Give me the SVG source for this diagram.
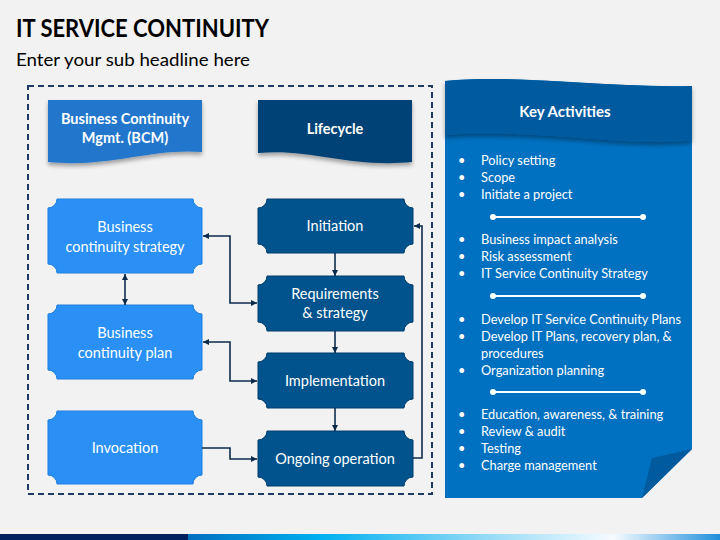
<svg xmlns="http://www.w3.org/2000/svg" width="720" height="540" viewBox="0 0 720 540">
<defs>
<style>
.t{font-family:Lato,"Liberation Sans",sans-serif;fill:#fff}
.b{font-weight:bold}
.c{text-anchor:middle}
.box{font-size:14.5px}
.li{font-size:12.8px}
.con{fill:none;stroke:#0d2b4c;stroke-width:1.6}
.lb{fill:#2a90f5;stroke:#1f7fde;stroke-width:1}
.db{fill:#00538d;stroke:#003e6c;stroke-width:1}
</style>
<marker id="ah" viewBox="0 0 10 10" refX="10" refY="5" markerWidth="6" markerHeight="6" markerUnits="userSpaceOnUse" orient="auto-start-reverse">
<path d="M0,0 L10,5 L0,10 Z" fill="#0d2b4c"/>
</marker>
<marker id="dot" viewBox="0 0 10 10" refX="5" refY="5" markerWidth="6" markerHeight="6" markerUnits="userSpaceOnUse">
<circle cx="5" cy="5" r="5" fill="#fff"/>
</marker>
<filter id="sh" x="-10%" y="-10%" width="120%" height="140%">
<feDropShadow dx="0" dy="3" stdDeviation="2" flood-color="#000" flood-opacity="0.35"/>
</filter>
<linearGradient id="bar" x1="0" x2="1" y1="0" y2="0">
<stop offset="0" stop-color="#0070c0"/>
<stop offset="0.25" stop-color="#00b0f0"/>
<stop offset="0.55" stop-color="#8fd9f6"/>
<stop offset="0.8" stop-color="#f6fbff"/>
<stop offset="1" stop-color="#1f8fdc"/>
</linearGradient>
</defs>
<rect width="720" height="540" fill="#f2f2f2"/>
<text x="16" y="37" font-family="Lato,'Liberation Sans',sans-serif" font-weight="bold" font-size="24" fill="#000" textLength="253" lengthAdjust="spacingAndGlyphs">IT SERVICE CONTINUITY</text>
<text x="16" y="66" font-family="Lato,'Liberation Sans',sans-serif" font-size="18" fill="#000" textLength="234" lengthAdjust="spacingAndGlyphs">Enter your sub headline here</text>

<rect x="28" y="86" width="404" height="408" fill="none" stroke="#1f3864" stroke-width="2" stroke-dasharray="6 4"/>

<g id="bcm-header">
<path d="M48,100 H202 V152 C150,148 110,168 48,162 Z" fill="#2277cc" filter="url(#sh)"/>
<text class="t b c" x="125" y="124" font-size="14.5">Business Continuity</text>
<text class="t b c" x="125" y="143" font-size="14.5">Mgmt. (BCM)</text>
</g>
<g id="lifecycle-header">
<path d="M258,100 H412 V162 C350,168 310,148 258,153 Z" fill="#004274" filter="url(#sh)"/>
<text class="t b c" x="335" y="134" font-size="14.5">Lifecycle</text>
</g>

<g id="bc-strategy">
<path class="lb" d="M57,199 H193 A9,9 0 0 0 202,208 V264 A9,9 0 0 0 193,273 H57 A9,9 0 0 0 48,264 V208 A9,9 0 0 0 57,199 Z"/>
<text class="t c box" x="125" y="232">Business</text>
<text class="t c box" x="125" y="252">continuity strategy</text>
</g>
<g id="bc-plan">
<path class="lb" d="M57,305 H193 A9,9 0 0 0 202,314 V370 A9,9 0 0 0 193,379 H57 A9,9 0 0 0 48,370 V314 A9,9 0 0 0 57,305 Z"/>
<text class="t c box" x="125" y="338">Business</text>
<text class="t c box" x="125" y="358">continuity plan</text>
</g>
<g id="invocation">
<path class="lb" d="M57,411 H193 A9,9 0 0 0 202,420 V475 A9,9 0 0 0 193,484 H57 A9,9 0 0 0 48,475 V420 A9,9 0 0 0 57,411 Z"/>
<text class="t c box" x="125" y="453">Invocation</text>
</g>

<g id="initiation">
<path class="db" d="M267,199 H404 A9,9 0 0 0 413,208 V244 A9,9 0 0 0 404,253 H267 A9,9 0 0 0 258,244 V208 A9,9 0 0 0 267,199 Z"/>
<text class="t c box" x="335" y="231">Initiation</text>
</g>
<g id="requirements">
<path class="db" d="M267,276 H404 A9,9 0 0 0 413,285 V322 A9,9 0 0 0 404,331 H267 A9,9 0 0 0 258,322 V285 A9,9 0 0 0 267,276 Z"/>
<text class="t c box" x="335" y="299">Requirements</text>
<text class="t c box" x="335" y="318">&amp; strategy</text>
</g>
<g id="implementation">
<path class="db" d="M267,353 H404 A9,9 0 0 0 413,362 V399 A9,9 0 0 0 404,408 H267 A9,9 0 0 0 258,399 V362 A9,9 0 0 0 267,353 Z"/>
<text class="t c box" x="335" y="386">Implementation</text>
</g>
<g id="ongoing">
<path class="db" d="M267,431 H404 A9,9 0 0 0 413,440 V477 A9,9 0 0 0 404,486 H267 A9,9 0 0 0 258,477 V440 A9,9 0 0 0 267,431 Z"/>
<text class="t c box" x="335" y="464">Ongoing operation</text>
</g>

<g id="connectors">
<path class="con" d="M203,236 H230 V303 H257" marker-start="url(#ah)" marker-end="url(#ah)"/>
<path class="con" d="M203,342 H230 V381 H257" marker-start="url(#ah)" marker-end="url(#ah)"/>
<path class="con" d="M202,448 H230 V459 H257" marker-end="url(#ah)"/>
<path class="con" d="M125,274 V305" marker-start="url(#ah)" marker-end="url(#ah)"/>
<path class="con" d="M335,253 V276" marker-end="url(#ah)"/>
<path class="con" d="M335,331 V353" marker-end="url(#ah)"/>
<path class="con" d="M335,408 V431" marker-end="url(#ah)"/>
<path class="con" d="M413,458 H422 V226 H414" marker-end="url(#ah)"/>
</g>

<g id="key-activities">
<path d="M445,81 C520,74 600,88 692,86 V449 L642,498 H445 Z" fill="#0070c0"/>
<path d="M652,458 L692,449 L642,498 Z" fill="#005a9e"/>
<path d="M445,81 C520,74 600,88 692,86 V140 C620,148 540,128 445,135 Z" fill="#005a9e" filter="url(#sh)"/>
<text class="t b c" x="565" y="117" font-size="15">Key Activities</text>
<g class="li">
<text class="t" x="458" y="165">•</text><text class="t" x="481" y="165">Policy setting</text>
<text class="t" x="458" y="182">•</text><text class="t" x="481" y="182">Scope</text>
<text class="t" x="458" y="199">•</text><text class="t" x="481" y="199">Initiate a project</text>
<path d="M493,217 H643" stroke="#fff" stroke-width="2" marker-start="url(#dot)" marker-end="url(#dot)"/>
<text class="t" x="458" y="244">•</text><text class="t" x="481" y="244">Business impact analysis</text>
<text class="t" x="458" y="261">•</text><text class="t" x="481" y="261">Risk assessment</text>
<text class="t" x="458" y="278">•</text><text class="t" x="481" y="278">IT Service Continuity Strategy</text>
<path d="M493,296 H643" stroke="#fff" stroke-width="2" marker-start="url(#dot)" marker-end="url(#dot)"/>
<text class="t" x="458" y="324">•</text><text class="t" x="481" y="324">Develop IT Service Continuity Plans</text>
<text class="t" x="458" y="341">•</text><text class="t" x="481" y="341">Develop IT Plans, recovery plan, &amp;</text>
<text class="t" x="481" y="358">procedures</text>
<text class="t" x="458" y="375">•</text><text class="t" x="481" y="375">Organization planning</text>
<path d="M493,392 H643" stroke="#fff" stroke-width="2" marker-start="url(#dot)" marker-end="url(#dot)"/>
<text class="t" x="458" y="419">•</text><text class="t" x="481" y="419">Education, awareness, &amp; training</text>
<text class="t" x="458" y="436">•</text><text class="t" x="481" y="436">Review &amp; audit</text>
<text class="t" x="458" y="453">•</text><text class="t" x="481" y="453">Testing</text>
<text class="t" x="458" y="470">•</text><text class="t" x="481" y="470">Charge management</text>
</g>
</g>

<rect x="0" y="534" width="188" height="6" fill="#002060"/>
<rect x="188" y="534" width="532" height="6" fill="url(#bar)"/>
</svg>
